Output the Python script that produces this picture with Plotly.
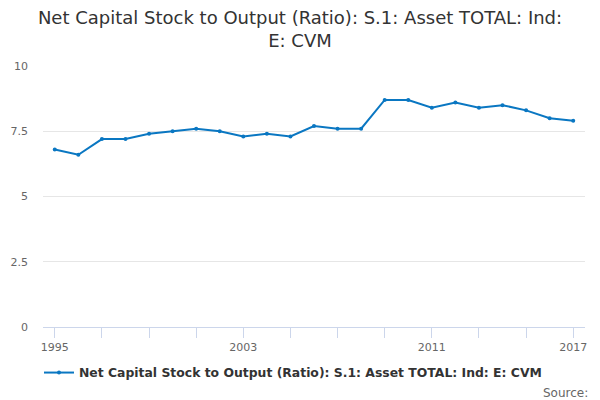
import plotly.graph_objects as go

years = list(range(1995, 2018))
values = [6.8, 6.6, 7.2, 7.2, 7.4, 7.5, 7.6, 7.5, 7.3, 7.4, 7.3, 7.7, 7.6, 7.6,
          8.7, 8.7, 8.4, 8.6, 8.4, 8.5, 8.3, 8.0, 7.9]
series_name = "Net Capital Stock to Output (Ratio): S.1: Asset TOTAL: Ind: E: CVM"
x_tick_labels = [1995, 2003, 2011, 2017]
y_tick_vals = [0, 2.5, 5, 7.5, 10]
y_tick_text = ["0", "2.5", "5", "7.5", "10"]

font = "DejaVu Sans, Verdana, sans-serif"
blue = "#0a77c2"

fig = go.Figure()
fig.add_trace(go.Scatter(
    x=years, y=values, mode="lines+markers", name=series_name,
    line=dict(color=blue, width=2),
    marker=dict(color=blue, size=4),
))

fig.update_layout(
    width=600, height=400,
    paper_bgcolor="white", plot_bgcolor="white",
    margin=dict(l=43, r=15, t=66, b=73),
    font=dict(family=font, color="#666666", size=11),
    title=dict(
        text="Net Capital Stock to Output (Ratio): S.1: Asset TOTAL: Ind:<br>E: CVM",
        x=0.5, xanchor="center", y=0.94, yanchor="top", yref="container",
        font=dict(family=font, size=18, color="#333333"),
    ),
    showlegend=True,
    legend=dict(
        orientation="h", x=0.065, xanchor="left", xref="container",
        y=0.0675, yanchor="middle", yref="container",
        font=dict(family=font, size=12.4, color="#333333", weight="bold"),
    ),
    xaxis=dict(
        range=[1994.5, 2017.5], automargin=False,
        tickvals=x_tick_labels, ticktext=[str(v) for v in x_tick_labels],
        ticks="outside", ticklen=10, tickcolor="#ccd6eb", tickwidth=1,
        showgrid=False, showline=True, linecolor="#ccd6eb", linewidth=1,
        zeroline=False, tickfont=dict(size=11, color="#666666"),
        minor=dict(tick0=1995, dtick=2, ticks="outside", ticklen=10,
                   tickcolor="#ccd6eb", tickwidth=1, showgrid=False),
    ),
    yaxis=dict(
        range=[0, 10], tickvals=y_tick_vals, ticktext=y_tick_text,
        automargin=False,
        showgrid=True, gridcolor="#e6e6e6", gridwidth=1,
        zeroline=False, showline=False, ticks="",
        tickfont=dict(size=11, color="#666666"), ticklabelstandoff=14,
    ),
)

fig.add_annotation(
    text="Source:", xref="paper", yref="paper", x=1.01, y=-0.22,
    xanchor="right", yanchor="top", showarrow=False,
    font=dict(family=font, size=12, color="#666666"),
)

fig.write_html(
    "out.html",
    config={"displayModeBar": False},
    post_script="document.body.style.margin='0';document.body.style.overflow='hidden';",
)
